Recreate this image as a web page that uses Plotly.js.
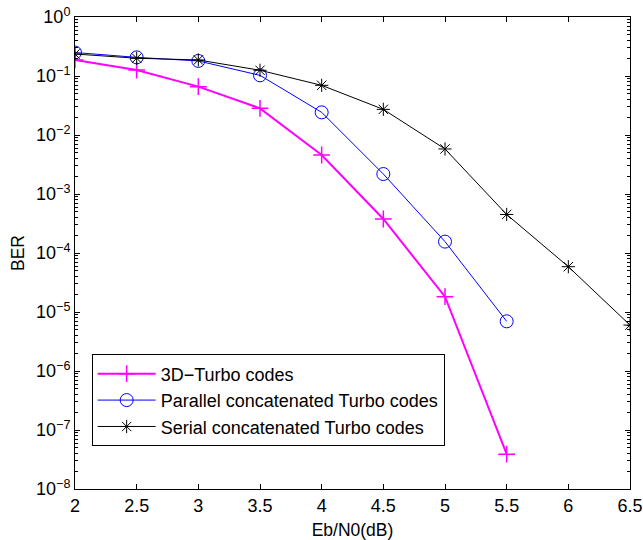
<!DOCTYPE html>
<html>
<head>
<meta charset="utf-8">
<script src="https://cdn.plot.ly/plotly-3.0.1.min.js"></script>
<style>html,body{margin:0;padding:0;background:#fff;}#chart{width:643px;height:540px;}</style>
</head>
<body>
<div id="chart"></div>
<script>
const ebn0_8 = [2, 2.5, 3, 3.5, 4, 4.5, 5, 5.5];
const ebn0_10 = [2, 2.5, 3, 3.5, 4, 4.5, 5, 5.5, 6, 6.5];
const ber3D = [0.187, 0.126, 0.066, 0.0283, 0.00458, 3.77e-4, 1.82e-5, 3.9e-8];
const berParallel = [0.25, 0.207, 0.18, 0.1026, 0.0242, 0.00218, 1.56e-4, 6.95e-6];
const berSerial = [0.236, 0.2, 0.187, 0.125, 0.0695, 0.0272, 0.0058, 4.5e-4, 5.86e-5, 6.0e-6];
const names = ['3D\u2212Turbo codes', 'Parallel concatenated Turbo codes', 'Serial concatenated Turbo codes'];
const xTicks = [2, 2.5, 3, 3.5, 4, 4.5, 5, 5.5, 6, 6.5];
const yExponents = [-8, -7, -6, -5, -4, -3, -2, -1, 0];

const yTickVals = yExponents.map(e => Math.pow(10, e));
const yTickText = yExponents.map(e => '10<sup>' + (e < 0 ? '\u2212' + (-e) : e) + '</sup>');
const yMinorVals = [];
yExponents.slice(0, -1).forEach(e => { for (let m = 2; m <= 9; m++) yMinorVals.push(m * Math.pow(10, e)); });

const font = 'Liberation Sans, Arial, Helvetica, sans-serif';
const traces = [
  {x: ebn0_8, y: ber3D, name: names[0], mode: 'lines+markers', type: 'scatter',
   line: {color: '#ff00ff', width: 2},
   marker: {symbol: 'cross-thin-open', size: 12, color: '#ff00ff', line: {color: '#ff00ff', width: 1.5}}},
  {x: ebn0_8, y: berParallel, name: names[1], mode: 'lines+markers', type: 'scatter',
   line: {color: '#0000ff', width: 1},
   marker: {symbol: 'circle-open', size: 13, color: '#0000ff', line: {color: '#0000ff', width: 1}}},
  {x: ebn0_10, y: berSerial, name: names[2], mode: 'lines+markers', type: 'scatter',
   line: {color: '#000000', width: 1},
   marker: {symbol: 'asterisk-open', size: 11, color: '#000000', line: {color: '#000000', width: 1}}}
];

const layout = {
  width: 643, height: 540,
  margin: {l: 75, r: 13, t: 17, b: 51},
  paper_bgcolor: '#fff', plot_bgcolor: '#fff',
  font: {family: font, size: 17, color: '#000'},
  showlegend: true,
  legend: {x: 0.030, y: 0.285, xanchor: 'left', yanchor: 'top',
           bgcolor: '#fff', bordercolor: '#000', borderwidth: 1, itemwidth: 58,
           font: {family: font, size: 18, color: '#000'}, tracegroupgap: 0},
  xaxis: {range: [2, 6.5], tickmode: 'array', tickvals: xTicks, ticktext: xTicks.map(String),
          showgrid: false, zeroline: false, showline: true, linecolor: '#000', linewidth: 1,
          mirror: 'allticks', ticks: 'inside', ticklen: 5, tickcolor: '#000',
          tickfont: {family: font, size: 18},
          title: {text: 'Eb/N0(dB)', font: {family: font, size: 17.5}, standoff: 10}},
  yaxis: {type: 'log', range: [-8, 0], tickmode: 'array', tickvals: yTickVals, ticktext: yTickText,
          showgrid: false, zeroline: false, showline: true, linecolor: '#000', linewidth: 1,
          mirror: 'allticks', ticks: 'inside', ticklen: 5, tickcolor: '#000',
          tickfont: {family: font, size: 18},
          minor: {ticks: 'inside', ticklen: 3, tickcolor: '#000', tickmode: 'array', tickvals: yMinorVals, showgrid: false},
          title: {text: 'BER', font: {family: font, size: 17.5}, standoff: 6}}
};

Plotly.newPlot('chart', traces, layout, {displayModeBar: false, staticPlot: true});
</script>
</body>
</html>
